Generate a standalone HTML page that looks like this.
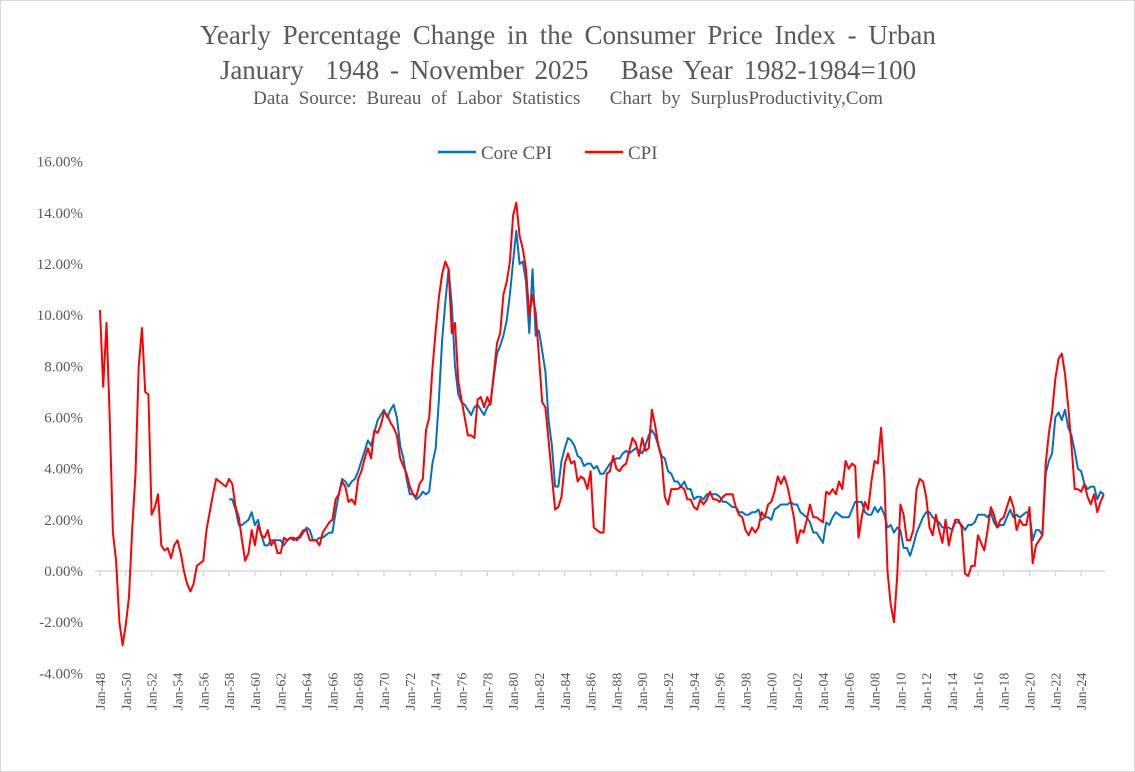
<!DOCTYPE html>
<html><head><meta charset="utf-8"><style>
html,body{margin:0;padding:0;background:#fff;}
svg{display:block;font-family:"Liberation Serif",serif;}
</style></head><body>
<svg id="chart" width="1135" height="772" viewBox="0 0 1135 772" xmlns="http://www.w3.org/2000/svg">
<rect x="0.5" y="0.5" width="1134" height="771" fill="#fff" stroke="#d9d9d9"/>
<text x="568" y="44" text-anchor="middle" font-size="27" word-spacing="5" fill="#595959">Yearly Percentage Change in the Consumer Price Index - Urban</text>
<text x="568" y="79" text-anchor="middle" font-size="27" word-spacing="4" fill="#595959" xml:space="preserve">January  1948 - November 2025   Base Year 1982-1984=100</text>
<text x="568" y="104" text-anchor="middle" font-size="19" word-spacing="5" fill="#595959" xml:space="preserve">Data Source: Bureau of Labor Statistics   Chart by SurplusProductivity,Com</text>
<g>
<line x1="438" y1="152" x2="476" y2="152" stroke="#0070c0" stroke-width="2.5"/>
<text x="481" y="159" font-size="19" fill="#595959">Core CPI</text>
<line x1="585" y1="152" x2="623" y2="152" stroke="#ff0000" stroke-width="2.5"/>
<text x="628" y="159" font-size="19" fill="#595959">CPI</text>
</g>
<g id="yaxis"></g><g id="xaxis"></g><g id="series"></g>
</svg>
<script>
const cpiStart = 1948;
const cpiValues = [
10.2,7.2,9.7,6.0, 1.5,0.4,-2.0,-2.9, -2.1,-1.0,1.7,3.8, 8.0,9.5,7.0,6.9, 2.2,2.5,3.0,1.0,
0.8,0.9,0.5,1.0, 1.2,0.7,0.0,-0.5, -0.8,-0.5,0.2,0.3, 0.4,1.6,2.3,3.0, 3.6,3.5,3.4,3.3,
3.6,3.4,2.5,2.1, 1.2,0.4,0.7,1.6, 1.0,1.8,1.4,1.3, 1.6,1.0,1.2,0.7, 0.7,1.3,1.2,1.3,
1.3,1.2,1.4,1.6, 1.6,1.2,1.2,1.2, 1.0,1.5,1.7,1.9, 2.0,2.8,3.0,3.5, 3.3,2.7,2.8,2.6,
3.6,3.9,4.4,4.8, 4.4,5.5,5.4,5.7, 6.2,6.1,5.8,5.6, 5.3,4.4,4.1,3.8, 3.3,3.0,2.9,3.4,
3.6,5.5,6.0,7.9, 9.4,10.7,11.6,12.1, 11.8,9.3,9.7,7.4, 6.7,6.0,5.3,5.3, 5.2,6.7,6.8,6.4,
6.8,6.5,7.7,8.9, 9.3,10.8,11.3,12.1, 13.9,14.4,13.1,12.6, 11.8,10.0,10.8,10.1, 8.4,6.6,6.4,5.1,
3.7,2.4,2.5,2.9, 4.2,4.6,4.2,4.3, 3.5,3.7,3.6,3.2, 3.9,1.7,1.6,1.5, 1.5,3.8,3.9,4.5,
4.0,3.9,4.1,4.2, 4.7,5.2,5.0,4.5, 5.2,4.7,4.8,6.3, 5.7,4.9,4.4,2.9, 2.6,3.2,3.2,3.2,
3.3,3.2,2.8,2.8, 2.5,2.4,2.8,2.6, 2.8,3.1,2.8,2.8, 2.7,2.9,3.0,3.0, 3.0,2.5,2.2,2.1,
1.6,1.4,1.7,1.5, 1.7,2.3,2.1,2.6, 2.7,3.1,3.7,3.4, 3.7,3.3,2.7,2.1, 1.1,1.6,1.5,2.0,
2.6,2.1,2.1,2.0, 1.9,3.1,3.0,3.2, 3.0,3.5,3.2,4.3, 4.0,4.2,4.1,1.3, 2.1,2.7,2.4,3.5,
4.3,4.2,5.6,3.7, 0.0,-1.3,-2.0,-0.2, 2.6,2.2,1.2,1.2, 1.6,3.2,3.6,3.5, 2.9,1.7,1.4,2.2,
1.6,1.1,2.0,1.0, 1.6,2.0,2.0,1.7, -0.1,-0.2,0.2,0.2, 1.4,1.1,0.8,1.6, 2.5,2.2,1.7,2.0,
2.1,2.5,2.9,2.5, 1.6,2.0,1.8,1.8, 2.5,0.3,1.0,1.2, 1.4,4.2,5.4,6.2, 7.5,8.3,8.5,7.7,
6.4,4.9,3.2,3.2, 3.1,3.4,2.9,2.6, 3.0,2.3,2.7,3.0
];
const coreStart = 1958;
const coreValues = [
2.8,2.8,2.4,1.8, 1.8,1.9,2.0,2.3, 1.8,2.0,1.4,1.0, 1.0,1.2,1.2,1.2, 1.2,1.0,1.2,1.3,
1.2,1.3,1.3,1.5, 1.7,1.6,1.2,1.2, 1.3,1.3,1.4,1.5, 1.5,2.3,3.0,3.6, 3.5,3.3,3.5,3.6,
3.9,4.3,4.7,5.1, 4.9,5.4,5.9,6.1, 6.3,6.0,6.3,6.5, 6.0,4.9,4.4,3.6, 3.0,3.0,2.8,2.9,
3.1,3.0,3.1,4.2, 4.8,6.7,9.0,10.5, 11.8,10.4,8.0,6.9, 6.6,6.5,6.3,6.1, 6.4,6.5,6.3,6.1,
6.4,6.6,7.6,8.5, 8.8,9.2,9.8,10.8, 12.1,13.3,12.0,12.1, 11.3,9.3,11.8,9.2, 9.4,8.6,7.8,5.9,
4.9,3.3,3.3,4.3, 4.8,5.2,5.1,4.9, 4.5,4.4,4.1,4.2, 4.2,4.0,4.1,3.8, 3.8,4.0,4.2,4.3,
4.4,4.4,4.6,4.7, 4.6,4.7,4.8,4.7, 4.6,4.9,5.3,5.5, 5.3,4.9,4.5,4.4, 3.9,3.8,3.5,3.5,
3.3,3.5,3.2,3.2, 2.8,2.9,2.9,2.8, 3.0,3.0,3.0,3.0, 2.9,2.7,2.7,2.6, 2.5,2.5,2.3,2.3,
2.2,2.2,2.3,2.3, 2.4,2.0,2.1,2.1, 2.0,2.4,2.5,2.6, 2.6,2.6,2.7,2.6, 2.6,2.3,2.2,2.1,
1.9,1.5,1.5,1.3, 1.1,1.9,1.8,2.1, 2.3,2.2,2.1,2.1, 2.1,2.4,2.7,2.7, 2.7,2.3,2.2,2.2,
2.5,2.3,2.5,2.2, 1.7,1.8,1.5,1.7, 1.6,0.9,0.9,0.6, 1.0,1.5,1.8,2.1, 2.3,2.3,2.1,2.0,
1.9,1.7,1.7,1.7, 1.6,1.9,1.9,1.8, 1.6,1.8,1.8,1.9, 2.2,2.2,2.2,2.1, 2.3,1.9,1.7,1.8,
1.8,2.1,2.4,2.1, 2.2,2.1,2.2,2.3, 2.3,1.2,1.6,1.6, 1.4,3.8,4.3,4.6, 6.0,6.2,5.9,6.3,
5.6,5.3,4.7,4.0, 3.9,3.4,3.2,3.3, 3.3,2.8,3.1,3.0
];
const yTicks = [16,14,12,10,8,6,4,2,0,-2,-4];
const xTickYears = [];
for (let y = 1948; y <= 2024; y += 2) xTickYears.push(y);

const NS = "http://www.w3.org/2000/svg";
const X0 = 100, PXY = 12.91;
const xs = yr => X0 + (yr - 1948) * PXY;
const ys = v => 571 - v * 25.58;
function mk(tag, attrs, parent) {
  const e = document.createElementNS(NS, tag);
  for (const k in attrs) e.setAttribute(k, attrs[k]);
  parent.appendChild(e); return e;
}
const yaxis = document.getElementById('yaxis');
yTicks.forEach(v => {
  const t = mk('text', {x: 83, y: ys(v) + 5, 'text-anchor': 'end', 'font-size': 15, fill: '#595959'}, yaxis);
  
  
  t.textContent = v.toFixed(2) + '%';
});
const xaxis = document.getElementById('xaxis');
const axl = mk('line', {x1: 95, y1: 571, x2: 1105, y2: 571, stroke: '#d9d9d9', 'stroke-width': 1.5}, xaxis);


xTickYears.forEach(yr => {
  const x = xs(yr);
  const tk = mk('line', {x1: x, y1: 571, x2: x, y2: 576, stroke: '#d9d9d9', 'stroke-width': 1.5}, xaxis);
  
  
  const t = mk('text', {x: 0, y: 0, 'text-anchor': 'start', 'font-size': 14, fill: '#595959',
    transform: `translate(${x + 5},710) rotate(-90)`}, xaxis);
  
  
  t.textContent = 'Jan-' + String(yr % 100).padStart(2, '0');
});
const series = document.getElementById('series');
function pathFor(start, vals) {
  return vals.map((v, i) => (i ? 'L' : 'M') + xs(start + i * 0.25).toFixed(1) + ',' + ys(v).toFixed(1)).join('');
}
const core = mk('path', {d: pathFor(coreStart, coreValues), fill: 'none', stroke: '#0070c0', 'stroke-width': 2, 'stroke-linejoin': 'round'}, series);


const cpi = mk('path', {d: pathFor(cpiStart, cpiValues), fill: 'none', stroke: '#ff0000', 'stroke-width': 2, 'stroke-linejoin': 'round'}, series);


</script>
</body></html>
